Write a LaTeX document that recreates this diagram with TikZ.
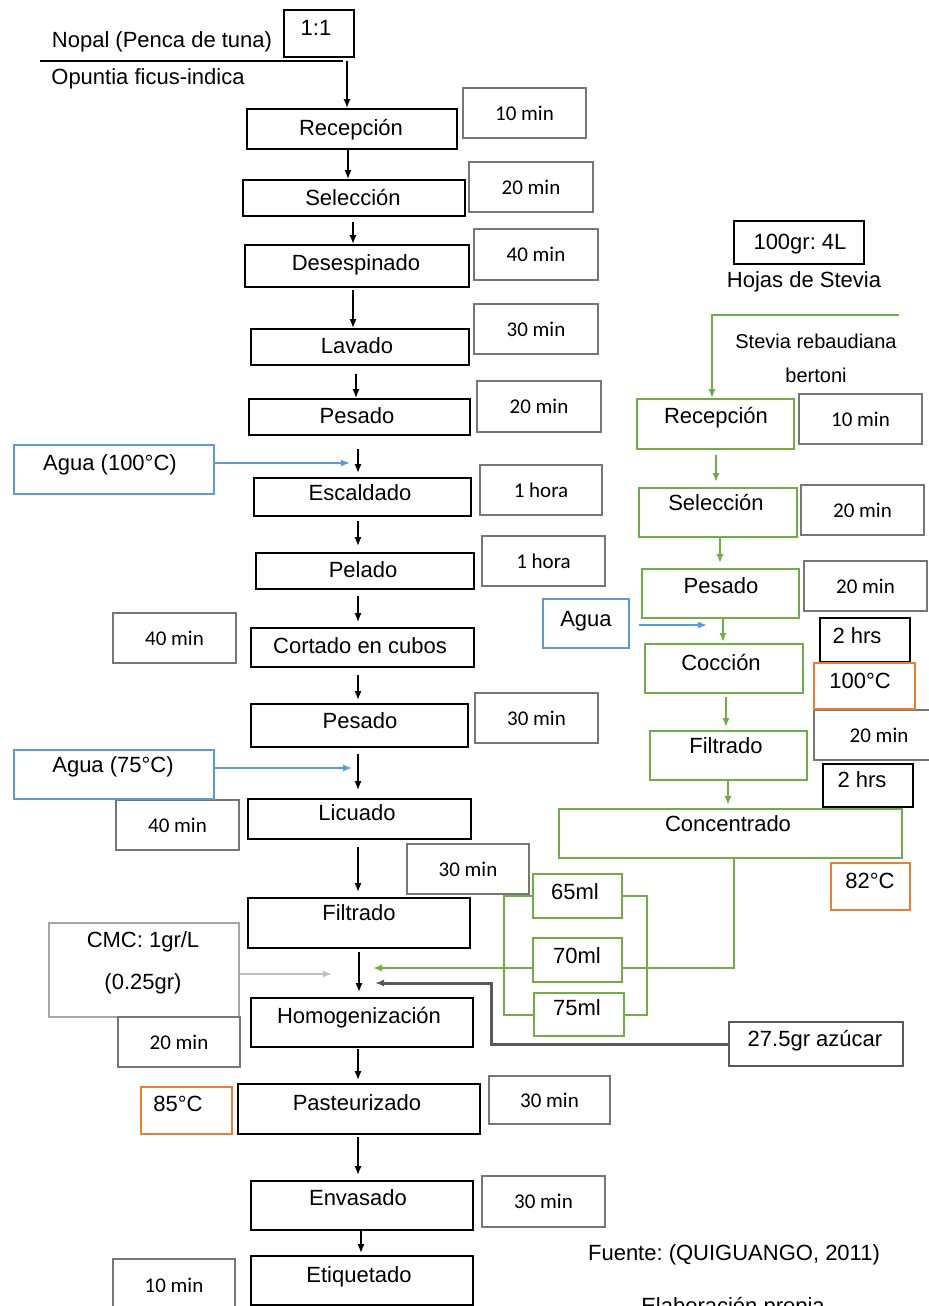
\documentclass[tikz,border=0pt]{standalone}
\usepackage{fontspec}
\setmainfont{Liberation Sans}
\newfontfamily\calfont{Carlito}
\usetikzlibrary{arrows.meta}
\pgfdeclarelayer{bg}
\pgfsetlayers{bg,main}
\frenchspacing
\definecolor{gr}{HTML}{70AD47}
\definecolor{blu}{HTML}{5B9BD5}
\definecolor{orng}{HTML}{ED7D31}
\definecolor{tgray}{HTML}{767676}
\definecolor{lgray}{HTML}{A6A6A6}
\definecolor{llgray}{HTML}{BFBFBF}
\definecolor{dgray}{HTML}{595959}
\tikzset{
  bbox/.style={draw=black, line width=1.2pt, fill=white},
  gbox/.style={draw=gr, line width=1pt, fill=white},
  tbox/.style={draw=tgray, line width=1pt, fill=white, font=\calfont\fontsize{10.5}{12}\selectfont},
  obox/.style={draw=orng, line width=1pt, fill=white},
  blbox/.style={draw=blu, line width=1pt, fill=white},
  cbox/.style={draw=lgray, line width=1pt, fill=white},
  sbox/.style={draw=dgray, line width=1pt, fill=white},
  lbl/.style={anchor=base, inner sep=0pt, font=\fontsize{11}{13}\selectfont},
  slbl/.style={anchor=base, inner sep=0pt, font=\fontsize{10}{12}\selectfont},
  tip/.style={-{Latex[length=4.5pt,width=3.6pt]}},
  arr/.style={draw=black, line width=0.75pt, tip},
  garr/.style={draw=gr, line width=1pt, tip},
  gline/.style={draw=gr, line width=1pt},
  barr/.style={draw=blu, line width=1pt, tip},
  carr/.style={draw=llgray, line width=1pt, tip},
  sarr/.style={draw=dgray, line width=1.5pt, -{Latex[length=4.5pt,width=3.6pt,fill=black]}},
}
\newcommand\bx[6]{\node[#1, anchor=north west, inner sep=0pt, minimum width={(#5-#3)*0.5pt}, minimum height={(#6-#4)*0.5pt}] (#2) at (#3,#4)}
\newcommand\varr[6]{\coordinate (tmpx) at (#4,0); \draw[#1, shorten <=#5, shorten >=#6] (#2.south -| tmpx) -- (#3.north -| tmpx);}
\begin{document}
\begin{tikzpicture}[x=0.5pt,y=-0.5pt]
\useasboundingbox (0,0) rectangle (929,1306);
% ---------- header nopal
\node[lbl] (nopal) at (162,47) {Nopal (Penca de tuna)};
\node[lbl] (opun) at (148,84) {Opuntia ficus-indica};
\bx{bbox}{r11}{283}{9}{353}{56}{};
\node[lbl] (r11t) at (316,35) {1:1};
\coordinate (nopL) at (40,61);
\coordinate (nopR) at (343,61);
\coordinate (nopA) at (347,61);
% ---------- main process boxes
\bx{bbox}{rec}{246}{108}{456}{148}{};   \node[lbl] (rect) at (351,135) {Recepción};
\bx{bbox}{sel}{242}{179}{464}{215}{};   \node[lbl] (selt) at (353,205) {Selección};
\bx{bbox}{des}{244}{244}{468}{286}{};   \node[lbl] (dest) at (356,270) {Desespinado};
\bx{bbox}{lav}{250}{328}{468}{364}{};   \node[lbl] (lavt) at (357,353) {Lavado};
\bx{bbox}{pes}{248}{398}{469}{434}{};   \node[lbl] (pest) at (357,423) {Pesado};
\bx{bbox}{esc}{253}{477}{470}{515}{};   \node[lbl] (esct) at (360,500) {Escaldado};
\bx{bbox}{pel}{255}{552}{473}{588}{};   \node[lbl] (pelt) at (363,577) {Pelado};
\bx{bbox}{cor}{250}{627}{473}{666}{};   \node[lbl] (cort) at (360,653) {Cortado en cubos};
\bx{bbox}{pesb}{250}{703}{467}{746}{};  \node[lbl] (pesbt) at (360,728) {Pesado};
\bx{bbox}{lic}{247}{798}{470}{838}{};   \node[lbl] (lict) at (357,820) {Licuado};
\bx{bbox}{fil}{247}{897}{469}{947}{};   \node[lbl] (filt) at (359,920) {Filtrado};
\bx{bbox}{hom}{250}{997}{472}{1046}{};  \node[lbl] (homt) at (359,1023) {Homogenización};
\bx{bbox}{pas}{237}{1083}{479}{1133}{}; \node[lbl] (past) at (357,1110) {Pasteurizado};
\bx{bbox}{env}{250}{1180}{472}{1229}{}; \node[lbl] (envt) at (358,1205) {Envasado};
\bx{bbox}{eti}{250}{1255}{472}{1304}{}; \node[lbl] (etit) at (359,1282) {Etiquetado};
% ---------- time boxes
\bx{tbox}{t1}{462}{87}{585}{137}{10 min};
\bx{tbox}{t2}{468}{161}{592}{211}{20 min};
\bx{tbox}{t3}{473}{228}{597}{279}{40 min};
\bx{tbox}{t4}{473}{303}{597}{353}{30 min};
\bx{tbox}{t5}{476}{380}{600}{431}{20 min};
\bx{tbox}{t6}{479}{464}{601}{514}{1 hora};
\bx{tbox}{t7}{481}{535}{604}{585}{1 hora};
\bx{tbox}{t8}{112}{612}{235}{662}{40 min};
\bx{tbox}{t9}{474}{692}{597}{742}{30 min};
\bx{tbox}{t10}{115}{799}{238}{849}{40 min};
\bx{tbox}{t13}{488}{1075}{609}{1123}{30 min};
\bx{tbox}{t14}{481}{1175}{604}{1226}{30 min};
\bx{tbox}{t15}{112}{1258}{234}{1310}{10 min};
% ---------- water boxes
\bx{blbox}{ag1}{13}{444}{213}{493}{};  \node[lbl] (ag1t) at (110,470) {Agua (100°C)};
\bx{blbox}{ag2}{13}{749}{213}{798}{};  \node[lbl] (ag2t) at (113,772) {Agua (75°C)};
\bx{blbox}{ag3}{542}{598}{628}{647}{}; \node[lbl] (ag3t) at (586,626) {Agua};
% ---------- stevia chain
\bx{bbox}{r100}{733}{220}{863}{263}{}; \node[lbl] (r100t) at (800,249) {100gr: 4L};
\node[lbl] (hojas) at (804,287) {Hojas de Stevia};
\node[slbl] (stev1) at (816,348) {Stevia rebaudiana};
\node[slbl] (stev2) at (816,382) {bertoni};
\coordinate (sTop) at (899,315);
\coordinate (sCor) at (712,315);
\bx{gbox}{srec}{636}{398}{793}{448}{}; \node[lbl] (srect) at (716,423) {Recepción};
\bx{gbox}{ssel}{638}{487}{796}{536}{}; \node[lbl] (sselt) at (716,510) {Selección};
\bx{gbox}{spes}{641}{568}{798}{617}{}; \node[lbl] (spest) at (721,593) {Pesado};
\bx{gbox}{scoc}{644}{643}{802}{692}{}; \node[lbl] (scoct) at (721,670) {Cocción};
\bx{gbox}{sfil}{649}{730}{806}{779}{}; \node[lbl] (sfilt) at (726,753) {Filtrado};
\bx{gbox}{scon}{558}{808}{901}{857}{}; \node[lbl] (scont) at (728,831) {Concentrado};
\bx{tbox}{s1}{798}{393}{921}{443}{10 min};
\bx{tbox}{s2}{800}{484}{923}{534}{20 min};
\bx{tbox}{s3}{803}{560}{926}{610}{20 min};
\bx{tbox}{s4}{813}{709}{943}{759}{20 min};
\bx{bbox}{h2a}{819}{617}{909}{661}{}; \node[lbl] (h2at) at (857,643) {2 hrs};
\bx{obox}{o100}{813}{662}{914}{708}{}; \node[lbl] (o100t) at (860,688) {100°C};
\bx{bbox}{h2b}{822}{763}{912}{806}{}; \node[lbl] (h2bt) at (862,787) {2 hrs};
\bx{obox}{o82}{830}{862}{909}{909}{};  \node[lbl] (o82t) at (870,888) {82°C};
% ---------- mixing
\bx{gbox}{m65}{532}{873}{621}{917}{};  \node[lbl] (m65t) at (575,899) {65ml};
\bx{gbox}{m70}{532}{937}{621}{981}{};  \node[lbl] (m70t) at (577,963) {70ml};
\bx{gbox}{m75}{533}{992}{623}{1035}{}; \node[lbl] (m75t) at (577,1015) {75ml};
\bx{tbox}{t11}{406}{843}{528}{893}{30 min};
\bx{cbox}{cmc}{48}{922}{238}{1016}{};
\node[lbl] (cmct1) at (143,947) {CMC: 1gr/L};
\node[lbl] (cmct2) at (143,989) {(0.25gr)};
\bx{tbox}{t12}{117}{1016}{239}{1066}{20 min};
\bx{sbox}{sug}{728}{1021}{902}{1065}{}; \node[lbl] (sugt) at (815,1046) {27.5gr azúcar};
\bx{obox}{o85}{140}{1086}{231}{1133}{}; \node[lbl] (o85t) at (178,1111) {85°C};
% ---------- footer
\node[lbl] (fuente) at (734,1260) {Fuente: (QUIGUANGO, 2011)};
\node[lbl] (elab) at (733,1313) {Elaboración propia};
% ---------- connectors
\begin{pgfonlayer}{bg}
\draw[line width=1pt] (nopL) -- (nopR);
\draw[arr] (nopA) -- (rec.north -| nopA);
\varr{arr}{rec}{sel}{348}{0pt}{0pt}
\varr{arr}{sel}{des}{353}{2.5pt}{0pt}
\varr{arr}{des}{lav}{353}{1pt}{0pt}
\varr{arr}{lav}{pes}{356}{4pt}{0pt}
\varr{arr}{pes}{esc}{358}{6.5pt}{2pt}
\varr{arr}{esc}{pel}{358}{2pt}{3pt}
\varr{arr}{pel}{cor}{358}{3pt}{2.5pt}
\varr{arr}{cor}{pesb}{358}{3.5pt}{1.5pt}
\varr{arr}{pesb}{lic}{358}{3pt}{4pt}
\varr{arr}{lic}{fil}{358}{3.5pt}{2.5pt}
\varr{arr}{fil}{hom}{359}{1.5pt}{2.5pt}
\varr{arr}{hom}{pas}{358}{0.5pt}{1.5pt}
\varr{arr}{pas}{env}{358}{1pt}{2.5pt}
\varr{arr}{env}{eti}{361}{0pt}{1pt}
% water
\coordinate (b1tip) at (350,463);
\draw[barr] (ag1.east |- b1tip) -- (b1tip);
\coordinate (b2tip) at (352,768);
\draw[barr] (ag2.east |- b2tip) -- (b2tip);
\coordinate (b3tip) at (707,625);
\draw[barr, shorten <=4.5pt] (ag3.east |- b3tip) -- (b3tip);
% stevia
\draw[garr] (sTop) -- (sCor) -- (srec.north -| sCor);
\varr{garr}{srec}{ssel}{716}{2.5pt}{2.5pt}
\varr{garr}{ssel}{spes}{720}{0pt}{2.5pt}
\varr{garr}{spes}{scoc}{723}{0pt}{0.5pt}
\varr{garr}{scoc}{sfil}{726}{1.5pt}{1.5pt}
\varr{garr}{sfil}{scon}{728}{0pt}{1.5pt}
\coordinate (gx) at (734,968);
\coordinate (gtip) at (373,968);
\draw[garr] (scon.south -| gx) -- (gx) -- (gtip);
\coordinate (bl) at (504,0);
\coordinate (br) at (647,0);
\draw[gline] (m65.west) -- (m65.west -| bl) -- (m75.west -| bl) -- (m75.west);
\draw[gline] (m65.east) -- (m65.east -| br) -- (m75.east -| br) -- (m75.east);
% cmc and sugar
\coordinate (ctip) at (332,974);
\draw[carr] (cmc.east |- ctip) -- (ctip);
\coordinate (sgx) at (491,983);
\coordinate (sgtip) at (375,983);
\draw[sarr] (sug.west) -- (sug.west -| sgx) -- (sgx) -- (sgtip);
\end{pgfonlayer}
\end{tikzpicture}
\end{document}
